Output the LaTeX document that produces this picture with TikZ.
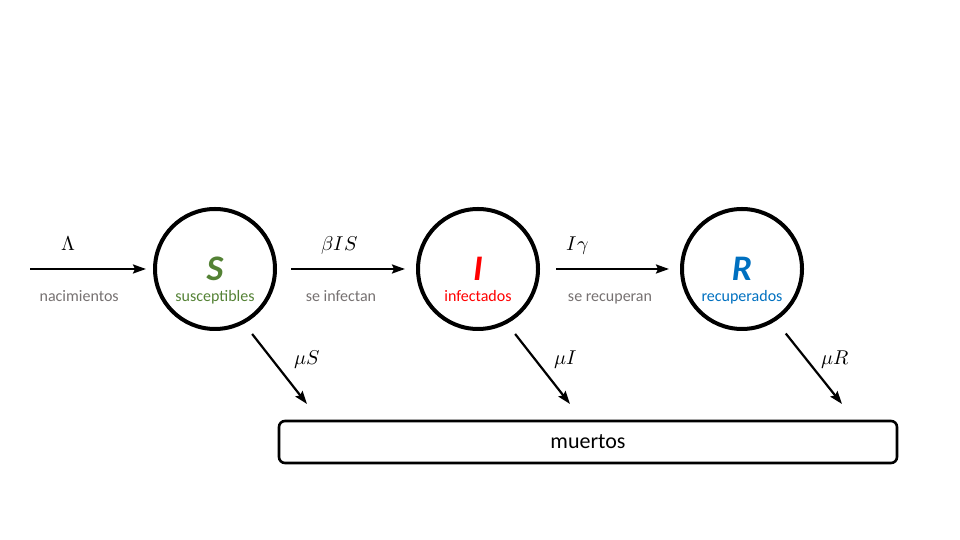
\documentclass[tikz,border=0pt]{standalone}
\usepackage{fontspec}
\usepackage{unicode-math}
\setmainfont{Carlito}
\setmathfont{Latin Modern Math}
\usetikzlibrary{positioning,arrows.meta}
\definecolor{sgreen}{RGB}{84,130,53}
\definecolor{ired}{RGB}{255,0,0}
\definecolor{rblue}{RGB}{0,112,192}
\definecolor{notegray}{RGB}{118,113,113}

\begin{document}
\begin{tikzpicture}[x=1pt,y=1pt,
	state/.style={draw,circle,line width=4pt,minimum size=120pt,inner sep=0pt},
	letter/.style={font=\fontsize{36}{38}\selectfont\bfseries\itshape},
	sub/.style={font=\fontsize{16}{18}\selectfont,anchor=base},
	flow/.style={-{Stealth[length=13pt,width=9pt,inset=2pt]},line width=2.2pt},
	rate/.style={font=\fontsize{20}{22}\selectfont,anchor=base},
	note/.style={font=\fontsize{16}{18}\selectfont,text=notegray,anchor=base}]
	\useasboundingbox (0,0) rectangle (960,540);
	% compartments
	\node[state] (S) at (215,271) {};
	\node[state] (I) at (478,271) {};
	\node[state] (R) at (742,271) {};
	\node[letter,text=sgreen] (Sl) at (S) {S};
	\node[letter,text=ired] (Il) at (I) {I};
	\node[letter,text=rblue] (Rl) at (R) {R};
	\node[sub,text=sgreen] (Ss) at ([yshift=-33pt]S.center) {susceptibles};
	\node[sub,text=ired] (Is) at ([yshift=-33pt]I.center) {infectados};
	\node[sub,text=rblue] (Rs) at ([yshift=-33pt]R.center) {recuperados};
	\node[draw,line width=2.6pt,rounded corners=6pt,minimum width=618pt,minimum height=42pt,
		font=\fontsize{22}{24}\selectfont] (M) at (588,98) {muertos};
	%input
	\coordinate (in) at (30,271);
	\draw[flow,shorten >=7pt] (in) -- (S)
		node[rate,pos=.31,yshift=18pt] (lam) {$\Lambda$}
		node[note,pos=.40,yshift=-33pt] (nac) {nacimientos};
	% transitions
	\draw[flow,shorten <=14pt,shorten >=11pt] (S) -- (I)
		node[rate,pos=.45,yshift=18pt] (inf) {$\beta I S$}
		node[note,pos=.46,yshift=-33pt] (inft) {se infectan};
	\draw[flow,shorten <=16pt,shorten >=11pt] (I) -- (R)
		node[rate,pos=.27,yshift=18pt] (rec) {$I\gamma$}
		node[note,pos=.50,yshift=-33pt] (rect) {se recuperan};
	% deaths
	\coordinate (dS) at (307,136);
	\coordinate (dI) at (570,136);
	\coordinate (dR) at (842,136);
	\draw[flow,shorten <=13pt] (S.-62) -- (dS);
	\draw[flow,shorten <=13pt] (I.-62) -- (dI);
	\draw[flow,shorten <=16pt] (R.-57) -- (dR);
	\node[rate] (muS) at (307,175) {$\mu S$};
	\node[rate] (muI) at (566,175) {$\mu I$};
	\node[rate] (muR) at (835,175) {$\mu R$};
\end{tikzpicture}
\end{document}
